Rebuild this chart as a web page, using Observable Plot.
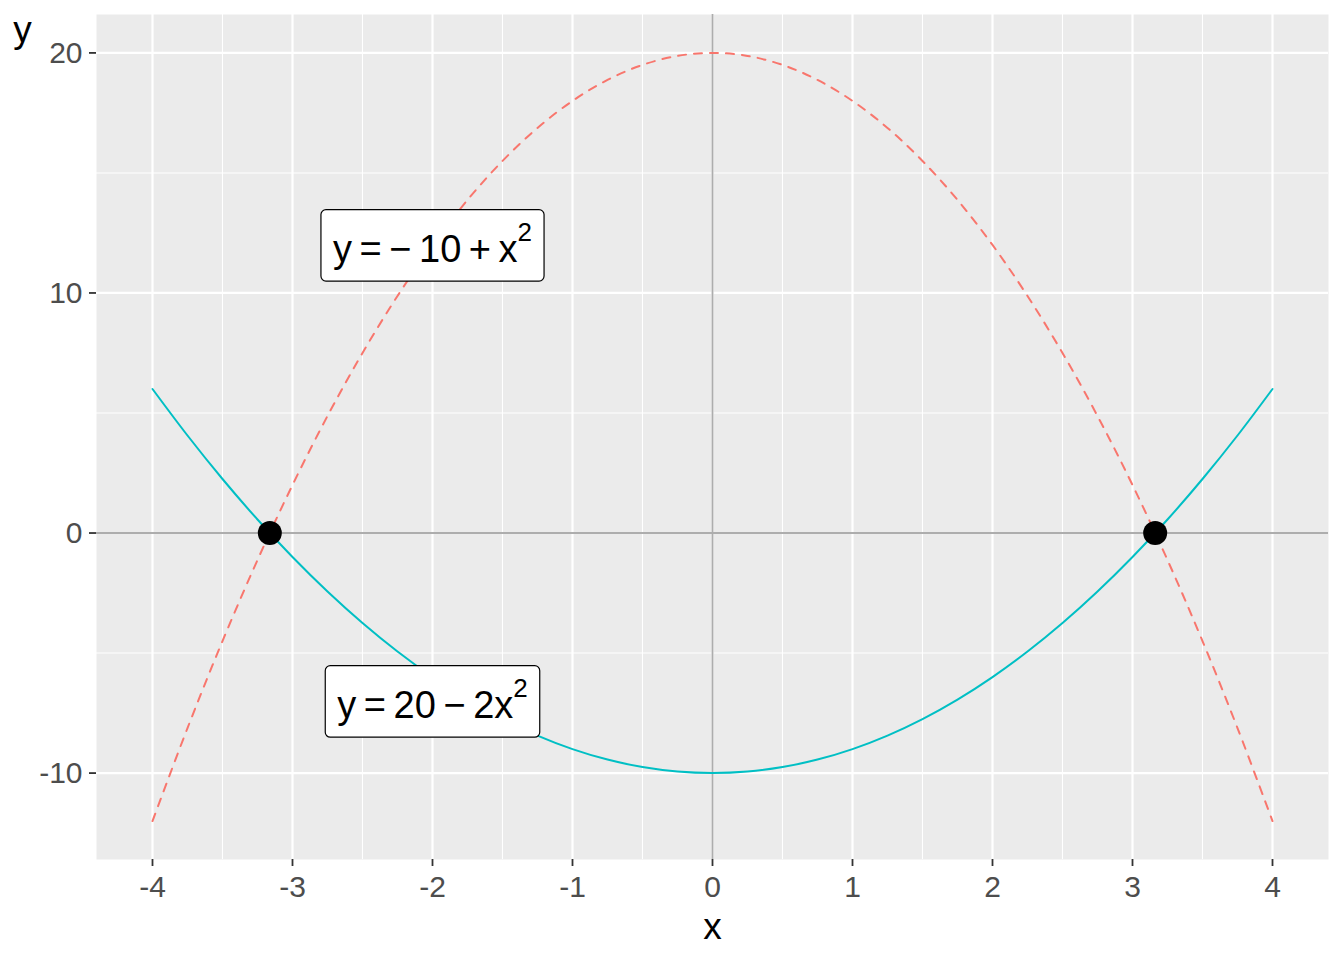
<!DOCTYPE html>
<html><head><meta charset="utf-8">
<script src="https://cdn.jsdelivr.net/npm/d3@7"></script>
<script src="https://cdn.jsdelivr.net/npm/@observablehq/plot@0.6"></script>
<style>body{margin:0;background:#fff;}</style>
</head><body><div id="chart"></div>
<script>
// x sample positions shared by both curves
const xs = [-4,-3.75,-3.5,-3.25,-3,-2.75,-2.5,-2.25,-2,-1.75,-1.5,-1.25,-1,-0.75,-0.5,-0.25,0,0.25,0.5,0.75,1,1.25,1.5,1.75,2,2.25,2.5,2.75,3,3.25,3.5,3.75,4];
// red dashed curve values
const redY = [-12,-8.125,-4.5,-1.125,2,4.875,7.5,9.875,12,13.875,15.5,16.875,18,18.875,19.5,19.875,20,19.875,19.5,18.875,18,16.875,15.5,13.875,12,9.875,7.5,4.875,2,-1.125,-4.5,-8.125,-12];
// cyan solid curve values
const cyanY = [6,4.0625,2.25,0.5625,-1,-2.4375,-3.75,-4.9375,-6,-6.9375,-7.75,-8.4375,-9,-9.4375,-9.75,-9.9375,-10,-9.9375,-9.75,-9.4375,-9,-8.4375,-7.75,-6.9375,-6,-4.9375,-3.75,-2.4375,-1,0.5625,2.25,4.0625,6];
// intersection points
const pointX = [-3.162, 3.162];
const pointY = [0, 0];
// labels
const labelX = [-2, -2];
const labelY = [12, -7];
const labelMain = ["y = − 10 + x", "y = 20 − 2x"];
const labelSup = ["2", "2"];
// ticks / grid
const xMajor = [-4,-3,-2,-1,0,1,2,3,4];
const xMinor = [-3.5,-2.5,-1.5,-0.5,0.5,1.5,2.5,3.5];
const yMajor = [-10,0,10,20];
const yMinor = [-5,5,15];

const redData = xs.map((x,i)=>({x, y: redY[i]}));
const cyanData = xs.map((x,i)=>({x, y: cyanY[i]}));
const pts = pointX.map((x,i)=>({x, y: pointY[i]}));
const labels = labelX.map((x,i)=>({x, y: labelY[i], t: labelMain[i]}));

const FONT = "Liberation Sans, Arial, Helvetica, sans-serif";

const svg = Plot.plot({
  width: 1344, height: 960,
  marginLeft: 96, marginRight: 16, marginTop: 14, marginBottom: 101,
  style: {fontFamily: FONT, background: "#fff"},
  x: {domain: [-4.4, 4.4]},
  y: {domain: [-13.6, 21.6]},
  marks: [
    Plot.frame({fill: "#EBEBEB", stroke: null}),
    Plot.ruleX(xMinor, {stroke: "#fff", strokeWidth: 1.1}),
    Plot.ruleY(yMinor, {stroke: "#fff", strokeWidth: 1.1}),
    Plot.ruleX(xMajor, {stroke: "#fff", strokeWidth: 2.2}),
    Plot.ruleY(yMajor, {stroke: "#fff", strokeWidth: 2.2}),
    Plot.ruleX([0], {stroke: "#ADADAD", strokeWidth: 1.8}),
    Plot.ruleY([0], {stroke: "#ADADAD", strokeWidth: 1.8}),
    Plot.line(redData, {x: "x", y: "y", stroke: "#F8766D", strokeWidth: 2, strokeDasharray: "8,8", curve: "catmull-rom"}),
    Plot.line(cyanData, {x: "x", y: "y", stroke: "#00BFC4", strokeWidth: 2, curve: "catmull-rom"}),
    Plot.dot(pts, {x: "x", y: "y", r: 12, fill: "#000", stroke: null}),
    Plot.text(labels, {x: "x", y: "y", text: "t", fontSize: 38, fill: "#000", textAnchor: "middle", lineAnchor: "middle", dy: 4.5, fontFamily: FONT}),
    Plot.axisX({ticks: xMajor, tickFormat: d => String(d), tickSize: 7, tickPadding: 9, fontSize: 30, fill: "#4D4D4D", stroke: "#333", strokeWidth: 1.8, label: null}),
    Plot.axisY({ticks: yMajor, tickFormat: d => String(d), tickSize: 7, tickPadding: 7, fontSize: 30, fill: "#4D4D4D", stroke: "#333", strokeWidth: 1.8, label: null}),
    Plot.text(["x"], {text: d => d, frameAnchor: "bottom", dy: 68, fontSize: 37, fill: "#000", lineAnchor: "middle"}),
    Plot.text(["y"], {text: d => d, frameAnchor: "top-left", dx: -74, dy: 16, fontSize: 37, fill: "#000", textAnchor: "middle", lineAnchor: "middle"})
  ]
});
document.getElementById("chart").append(svg);

const NS = "http://www.w3.org/2000/svg";
Array.from(svg.querySelectorAll("text")).forEach((t) => {
  const i = labelMain.indexOf(t.textContent);
  if (i < 0) return;
  t.setAttribute("word-spacing", "-3");
  const ts = document.createElementNS(NS, "tspan");
  ts.setAttribute("dy", "-21");
  ts.setAttribute("font-size", "26");
  ts.textContent = labelSup[i];
  t.appendChild(ts);
  const bb = t.getBBox();
  const r = document.createElementNS(NS, "rect");
  r.setAttribute("x", bb.x - 12);
  r.setAttribute("width", bb.width + 24);
  r.setAttribute("y", bb.y - 7);
  r.setAttribute("height", bb.height + 18.5);
  r.setAttribute("rx", 5);
  r.setAttribute("fill", "#fff");
  r.setAttribute("stroke", "#000");
  r.setAttribute("stroke-width", 1.2);
  if (t.getAttribute("transform")) r.setAttribute("transform", t.getAttribute("transform"));
  t.parentNode.insertBefore(r, t);
});
</script>
</body></html>
